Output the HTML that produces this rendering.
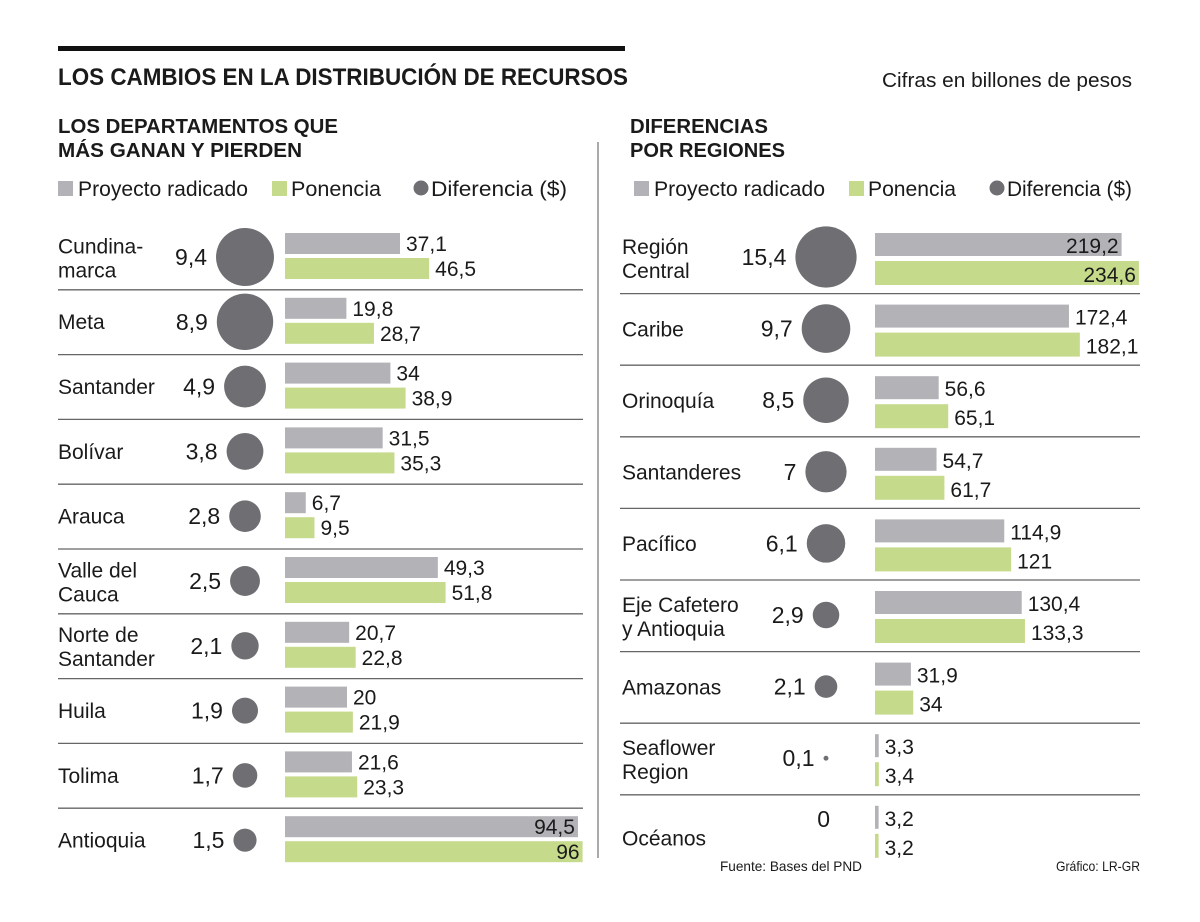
<!DOCTYPE html>
<html><head><meta charset="utf-8"><style>
body{margin:0;background:#fff}
svg text{font-family:"Liberation Sans Narrow","Liberation Sans",sans-serif;fill:#1a1a1a}
</style></head><body>
<svg id="chart" width="1200" height="917" viewBox="0 0 1200 917" xmlns="http://www.w3.org/2000/svg">
<rect x="0" y="0" width="1200" height="917" fill="#fff"/>
<rect x="58" y="46" width="567" height="5" fill="#111"/>
<text x="58" y="85" font-size="24" font-weight="bold" textLength="570" lengthAdjust="spacingAndGlyphs">LOS CAMBIOS EN LA DISTRIBUCIÓN DE RECURSOS</text>
<text x="1132" y="87" font-size="20" text-anchor="end" textLength="250" lengthAdjust="spacingAndGlyphs">Cifras en billones de pesos</text>
<text x="58" y="133" font-size="20" font-weight="bold" textLength="280" lengthAdjust="spacingAndGlyphs">LOS DEPARTAMENTOS QUE</text>
<text x="58" y="157" font-size="20" font-weight="bold" textLength="244" lengthAdjust="spacingAndGlyphs">MÁS GANAN Y PIERDEN</text>
<text x="630" y="133" font-size="20" font-weight="bold" textLength="138" lengthAdjust="spacingAndGlyphs">DIFERENCIAS</text>
<text x="630" y="157" font-size="20" font-weight="bold" textLength="155" lengthAdjust="spacingAndGlyphs">POR REGIONES</text>
<line x1="598" y1="142" x2="598" y2="858" stroke="#555" stroke-width="1"/>
<g id="legends"></g>
<g id="left"></g>
<g id="right"></g>
<text x="720" y="871" font-size="14" textLength="142" lengthAdjust="spacingAndGlyphs">Fuente: Bases del PND</text>
<text x="1140" y="871" font-size="14" text-anchor="end" textLength="84" lengthAdjust="spacingAndGlyphs">Gráfico: LR-GR</text>
</svg>
<script>
const leftNames = [["Cundina-","marca"],["Meta"],["Santander"],["Bolívar"],["Arauca"],["Valle del","Cauca"],["Norte de","Santander"],["Huila"],["Tolima"],["Antioquia"]];
const leftProyecto = [37.1,19.8,34,31.5,6.7,49.3,20.7,20,21.6,94.5];
const leftPonencia = [46.5,28.7,38.9,35.3,9.5,51.8,22.8,21.9,23.3,96];
const leftDiff = [9.4,8.9,4.9,3.8,2.8,2.5,2.1,1.9,1.7,1.5];
const rightNames = [["Región","Central"],["Caribe"],["Orinoquía"],["Santanderes"],["Pacífico"],["Eje Cafetero","y Antioquia"],["Amazonas"],["Seaflower","Region"],["Océanos"]];
const rightProyecto = [219.2,172.4,56.6,54.7,114.9,130.4,31.9,3.3,3.2];
const rightPonencia = [234.6,182.1,65.1,61.7,121,133.3,34,3.4,3.2];
const rightDiff = [15.4,9.7,8.5,7,6.1,2.9,2.1,0.1,0];

const NS="http://www.w3.org/2000/svg";
function mk(parent,tag,attrs,text){const e=document.createElementNS(NS,tag);for(const k in attrs)e.setAttribute(k,attrs[k]);if(text!==undefined)e.textContent=text;parent.appendChild(e);return e;}
const fmt=v=>String(v).replace('.',',');
const GRAY="#b2b2b7",GREEN="#c6da8b",DOT="#6e6e73";

function legend(x0,y,gx,dx,lens){
  const g=document.getElementById('legends');
  let r=mk(g,'rect',{x:x0,y:y-15,width:15,height:15,fill:GRAY});
  
  
  let t=mk(g,'text',{x:x0+20,y:y,'font-size':21,textLength:lens[0],lengthAdjust:'spacingAndGlyphs'},'Proyecto radicado');
  
  
  r=mk(g,'rect',{x:gx,y:y-15,width:15,height:15,fill:GREEN});
  
  
  t=mk(g,'text',{x:gx+19,y:y,'font-size':21,textLength:lens[1],lengthAdjust:'spacingAndGlyphs'},'Ponencia');
  
  
  let c=mk(g,'circle',{cx:dx,cy:y-8,r:7.5,fill:DOT});
  
  
  t=mk(g,'text',{x:dx+10,y:y,'font-size':21,textLength:lens[2],lengthAdjust:'spacingAndGlyphs'},'Diferencia ($)');
  
  
}
legend(58,196,272,421,[170,90,136]);
legend(634,196,849,997,[171,88,125]);

function panel(id,cfg,names,pro,pon,diff){
  const g=document.getElementById(id);
  names.forEach((nm,i)=>{
    const top=cfg.top+cfg.rowH*i;
    const row=mk(g,'g',{});
    
    
    const mid=top+cfg.rowH/2;
    if(nm.length===2){
      let t=mk(row,'text',{x:cfg.labelX,y:mid-4,'font-size':21},nm[0]);
       
      t=mk(row,'text',{x:cfg.labelX,y:mid+20,'font-size':21},nm[1]);
       
    } else {
      const t=mk(row,'text',{x:cfg.labelX,y:mid+(nm[0]==='Océanos'?15:7),'font-size':21},nm[0]);
       
    }
    const r=cfg.k*Math.sqrt(diff[i]);
    const cy=top+cfg.circleDy;
    const c=mk(row,'circle',{cx:cfg.cx,cy:cy,r:Math.max(r,0),fill:DOT});
    
    
    const vx=diff[i]===0?cfg.cx+4:cfg.cx-r-9;
    const vy=diff[i]===0?cy-3:cy+8;
    const vt=mk(row,'text',{x:vx,y:vy,'font-size':23,'text-anchor':'end'},fmt(diff[i]));
    
    
    [[pro[i],GRAY,cfg.b1y,cfg.b1h,'bar-proyecto'],[pon[i],GREEN,cfg.b2y,cfg.b2h,'bar-ponencia']].forEach(([v,col,dy,h,name])=>{
      const w=v*cfg.scale;
      const b=mk(row,'rect',{x:cfg.barX,y:top+dy,width:w,height:h,fill:col});
      
      
      const inside=cfg.barX+w>cfg.insideAt;
      const lt=mk(row,'text',{x:inside?cfg.barX+w-3:cfg.barX+w+6,y:top+dy+h-3,'font-size':21,'text-anchor':inside?'end':'start'},fmt(v));
      
      
    });
    if(i<names.length-1){
      const ln=mk(row,'line',{x1:cfg.lineX1,x2:cfg.lineX2,y1:top+cfg.rowH,y2:top+cfg.rowH,stroke:'#666','stroke-width':1.3});
      
      
    }
  });
}
panel('left',{top:225,rowH:64.8,labelX:58,cx:245,k:9.45,circleDy:32,barX:285,scale:3.1,b1y:8,b1h:21,b2y:33,b2h:21,insideAt:540,lineX1:58,lineX2:583},leftNames,leftProyecto,leftPonencia,leftDiff);
panel('right',{top:222,rowH:71.6,labelX:622,cx:826,k:7.8,circleDy:35,barX:875,scale:1.125,b1y:11,b1h:23,b2y:39,b2h:24,insideAt:1100,lineX1:620,lineX2:1140},rightNames,rightProyecto,rightPonencia,rightDiff);
</script>
</body></html>
